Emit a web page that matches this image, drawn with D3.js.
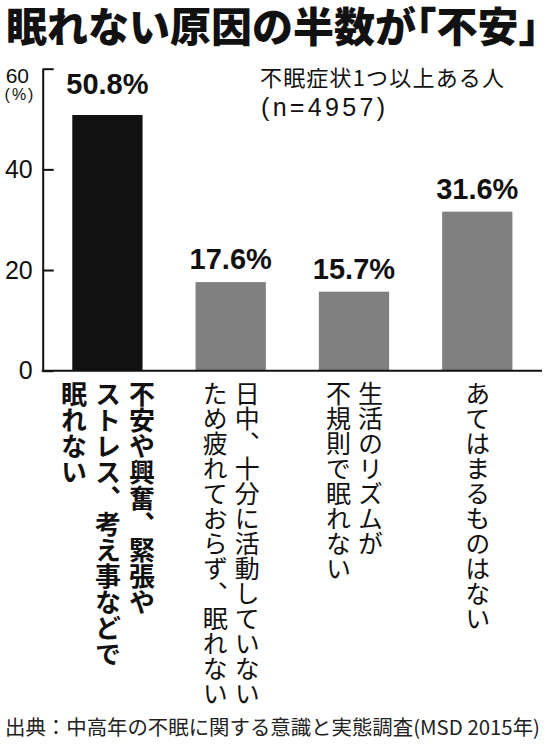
<!DOCTYPE html>
<html>
<head>
<meta charset="utf-8">
<script src="https://cdn.jsdelivr.net/npm/d3@7"></script>
<style>
  html, body { margin: 0; padding: 0; background: #fff; }
  #chart { position: relative; width: 547px; height: 750px; }
  svg { display: block; position: absolute; left: 0; top: 0; }
  .vlabel {
    position: absolute;
    writing-mode: vertical-rl;
    text-orientation: mixed;
    line-height: 1;
    white-space: nowrap;
    color: #111;
    font-family: "Noto Sans CJK JP", "Noto Sans CJK SC", sans-serif;
  }
</style>
</head>
<body>
<div id="chart"></div>
<script>
// ---- data ----
const categories = ["anxiety", "inactive", "rhythm", "none"];
const values = [50.8, 17.6, 15.7, 31.6];
const labelLines = [
  ["不安や興奮、緊張や", "ストレス、考え事などで", "眠れない"],
  ["日中、十分に活動していない", "ため疲れておらず、眠れない"],
  ["生活のリズムが", "不規則で眠れない"],
  ["あてはまるものはない"]
];
const tickValues = [0, 20, 40, 60];
const titleText = "眠れない原因の半数が「不安」";
const noteLines = ["不眠症状1つ以上ある人", "(n=4957)"];
const sourceText = "出典：中高年の不眠に関する意識と実態調査(MSD 2015年)";
const highlight = 0; // the black bar

const W = 547, H = 750;
const JP = '"Noto Sans CJK JP", "Noto Sans CJK SC", sans-serif';
const NUM = '"Liberation Sans", Arial, sans-serif';

const chart = d3.select('#chart');
const svg = chart.append('svg')
  .attr('width', W).attr('height', H)
  .attr('viewBox', `0 0 ${W} ${H}`);

// scales
const axisX = 42.7;
const x = d3.scaleBand()
  .domain(categories)
  .range([axisX, 542])
  .paddingInner(0.43)
  .paddingOuter(0.24);

const y = d3.scaleLinear().domain([0, 60]).range([370.7, 68.7]);

// title (halt = half-width brackets only)
svg.append('text')
  .attr('x', 6).attr('y', 42)
  .attr('font-family', JP)
  .attr('font-weight', 900)
  .attr('font-size', 41)
  .attr('fill', '#111')
  .style('font-feature-settings', '"halt"')
  .text(titleText);

// bars
svg.append('g')
  .selectAll('rect')
  .data(values)
  .join('rect')
  .attr('x', (d, i) => x(categories[i]))
  .attr('width', x.bandwidth())
  .attr('y', d => y(d))
  .attr('height', d => y(0) - y(d))
  .attr('fill', (d, i) => i === highlight ? '#111' : '#808080');

// y axis (ticks point inward)
const yAxis = svg.append('g')
  .attr('transform', `translate(${axisX},0)`)
  .call(d3.axisLeft(y)
    .tickValues(tickValues)
    .tickSizeInner(-11)
    .tickSizeOuter(0)
    .tickPadding(10)
    .tickFormat(d3.format('d')));

yAxis.select('.domain').attr('stroke', '#111').attr('stroke-width', 2);
yAxis.selectAll('.tick line').attr('stroke', '#111').attr('stroke-width', 2);
yAxis.selectAll('.tick text')
  .attr('font-family', NUM)
  .attr('font-size', 25)
  .attr('fill', '#111');
// top label sits smaller, below its tick
yAxis.selectAll('.tick text').filter(d => d === 60)
  .attr('font-size', 21)
  .attr('x', -13.7)
  .attr('y', 7);

svg.append('text')
  .attr('x', 20).attr('y', 100)
  .attr('text-anchor', 'middle')
  .attr('font-family', NUM)
  .attr('font-size', 16)
  .attr('letter-spacing', 2)
  .attr('fill', '#111')
  .text('(%)');

// baseline
svg.append('line')
  .attr('x1', axisX - 1).attr('x2', 542)
  .attr('y1', y(0)).attr('y2', y(0))
  .attr('stroke', '#111').attr('stroke-width', 2);

// value labels
svg.append('g')
  .selectAll('text')
  .data(values)
  .join('text')
  .attr('x', (d, i) => x(categories[i]) + x.bandwidth() / 2)
  .attr('y', (d, i) => y(d) - (i === highlight ? 21 : 13))
  .attr('text-anchor', 'middle')
  .attr('font-family', NUM)
  .attr('font-weight', 'bold')
  .attr('font-size', 29)
  .attr('fill', '#111')
  .text(d => d.toFixed(1) + '%');

// vertical category labels (HTML for proper vertical punctuation),
// first line is the rightmost column
labelLines.forEach((lines, i) => {
  const bold = i === highlight;
  const fs = bold ? 26 : 25;
  const gap = bold ? 34 : 32;
  const cx = x(categories[i]) + x.bandwidth() / 2;
  lines.forEach((line, j) => {
    const colX = cx + ((lines.length - 1) / 2 - j) * gap;
    chart.append('div')
      .attr('class', 'vlabel')
      .style('left', (colX - fs / 2) + 'px')
      .style('top', '381px')
      .style('font-size', fs + 'px')
      .style('font-weight', bold ? 700 : 400)
      .text(line);
  });
});

// note
svg.append('text')
  .attr('x', 260).attr('y', 86)
  .attr('font-family', JP)
  .attr('font-size', 22)
  .attr('fill', '#111')
  .attr('textLength', 244)
  .attr('lengthAdjust', 'spacing')
  .text(noteLines[0]);

svg.append('text')
  .attr('x', 261).attr('y', 116)
  .attr('font-family', NUM)
  .attr('font-size', 25)
  .attr('fill', '#111')
  .attr('textLength', 124)
  .attr('lengthAdjust', 'spacing')
  .text(noteLines[1]);

// source
svg.append('text')
  .attr('x', 5).attr('y', 735)
  .attr('font-family', JP)
  .attr('font-size', 20)
  .attr('fill', '#222')
  .attr('textLength', 535)
  .attr('lengthAdjust', 'spacingAndGlyphs')
  .text(sourceText);
</script>
</body>
</html>
